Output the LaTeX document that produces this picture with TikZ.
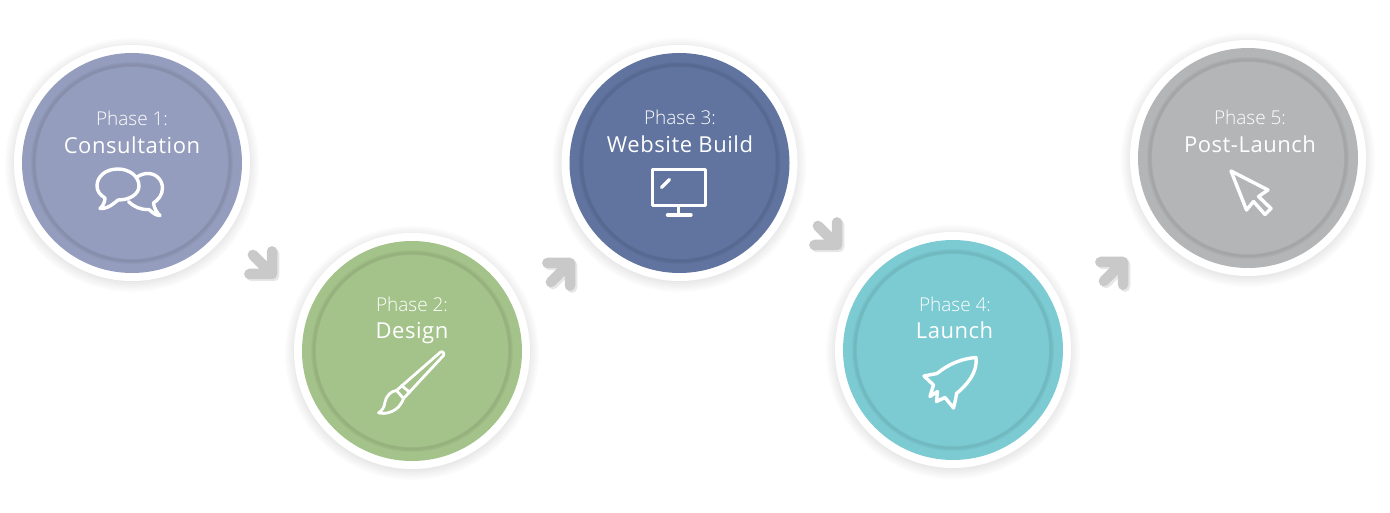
\documentclass[tikz,border=0pt]{standalone}
\usepackage{fontspec}
\setmainfont{Open Sans}
\newfontfamily\phasefont{Open Sans Light}
\newfontfamily\titlefont[LetterSpace=2.5]{Open Sans}
\definecolor{cone}{HTML}{949DBD}
\definecolor{ctwo}{HTML}{A4C38A}
\definecolor{cthree}{HTML}{60749F}
\definecolor{cfour}{HTML}{7CCBD2}
\definecolor{cfive}{HTML}{B4B5B7}
\definecolor{arrowgrey}{HTML}{C9C9C9}
\tikzset{
  x=1pt,y=-1pt,
  rim/.style={circle,fill=white,minimum size=236pt,inner sep=0pt},
  disc/.style={circle,fill=#1,minimum size=220pt,inner sep=0pt},
  phaselabel/.style={text=white,inner sep=0pt,font=\phasefont\fontsize{19}{21}\selectfont},
  titlelabel/.style={text=white,inner sep=0pt,font=\titlefont\fontsize{22}{25}\selectfont},
  iconline/.style={draw=white,line width=3.4pt,line join=round,line cap=round},
  chevronline/.style={line width=10.5pt,line join=round,line cap=round}
}
\newcommand{\phasedisc}[4]{%
  \foreach \r in {127,125,...,117}{\fill[black,opacity=.014] (#2,#3+2) circle[radius=\r];}
  \node[rim] (#1rim) at (#2,#3) {};
  \node[disc=#4] (#1) at (#2,#3) {};
  \foreach \w in {6,4,2}{\draw[#4!70!black,opacity=.10,line width=\w pt] (#2,#3) circle[radius=98];}
  \fill[#4] (#2,#3) circle[radius=96];
}
\newcommand{\chevron}[3]{%
  \begin{scope}[shift={(#1+2,#2+2)},rotate=#3]
    \draw[chevronline,draw=black!14,opacity=.65] (-16,-16) -- (0,0) -- (-16,16) (-27,0) -- (0,0);
  \end{scope}
  \begin{scope}[shift={(#1,#2)},rotate=#3]
    \draw[chevronline,draw=arrowgrey] (-16,-16) -- (0,0) -- (-16,16) (-27,0) -- (0,0);
  \end{scope}
}
\begin{document}
\begin{tikzpicture}
\useasboundingbox (0,0) rectangle (1390,513);
\fill[white] (0,0) rectangle (1390,513);

\phasedisc{one}{132}{163}{cone}
\phasedisc{two}{412}{351}{ctwo}
\phasedisc{three}{679.5}{163}{cthree}
\phasedisc{four}{953}{350}{cfour}
\phasedisc{five}{1248}{158}{cfive}

\chevron{272}{274}{-45}
\chevron{570}{263}{45}
\chevron{837}{245}{-45}
\chevron{1123}{262}{45}

\node[phaselabel] (p1) at (132,118) {Phase 1:};
\node[titlelabel] (t1) at (132,145) {Consultation};
\node[phaselabel] (p2) at (412,304.5) {Phase 2:};
\node[titlelabel] (t2) at (412,333.5) {Design};
\node[phaselabel] (p3) at (680,117.5) {Phase 3:};
\node[titlelabel] (t3) at (680,144) {Website Build};
\node[phaselabel] (p4) at (955,304.5) {Phase 4:};
\node[titlelabel] (t4) at (954.5,330.5) {Launch};
\node[phaselabel] (p5) at (1250,117.5) {Phase 5:};
\node[titlelabel] (t5) at (1250,144) {Post-Launch};

% speech bubbles
\draw[iconline] (118,200) .. controls (130,200) and (139,194) .. (139,186)
  .. controls (139,176) and (129,169) .. (118,169)
  .. controls (106,169) and (97,176) .. (97,186)
  .. controls (97,191) and (100,195) .. (105,198)
  .. controls (105,202) and (103,206) .. (100,208.5)
  .. controls (105,209) and (110,207) .. (118,200);
\draw[iconline] (137,177) .. controls (141,174.5) and (144,173.5) .. (148,173.5)
  .. controls (156,173.5) and (162.5,180) .. (162.5,188)
  .. controls (162.5,195) and (158,200) .. (153.5,203)
  .. controls (154,208) and (157,213) .. (160,215.5)
  .. controls (156,215.5) and (153,213) .. (149,209.5)
  .. controls (141,210) and (134,207) .. (128.5,201.5);

% paint brush
\draw[iconline,line width=2.8pt] (396.5,390.5) -- (440,352.5)
  .. controls (442,350.5) and (445,353) .. (443.5,355.5)
  -- (403.5,398.5) -- cycle;
\draw[iconline,line width=2.8pt] (401.5,385.5) -- (410,392.5);
\draw[iconline,line width=2.8pt] (396.5,390.5)
  .. controls (391,391) and (386,396) .. (385,402)
  .. controls (384.5,407) and (382,411) .. (378.5,412.8)
  .. controls (386,415) and (396,411) .. (400,405)
  .. controls (402,402.5) and (403,400.5) .. (403.5,398.5);

% monitor
\draw[iconline,line cap=butt] (652.5,169.5) rectangle (705.5,205.5);
\draw[iconline,line cap=butt] (678.5,205.5) -- (678.5,215);
\draw[iconline] (667.5,215) -- (691,215);
\draw[iconline] (661.5,187.5) -- (669.5,179.5);

% rocket
\draw[iconline] (976,357.5) .. controls (963,358.5) and (950,363) .. (937,373.5)
  -- (924,376) -- (933.5,385) -- (930,396.5) -- (937.5,391.5) -- (936.5,401.5)
  -- (945,397.5) -- (953.5,408)
  .. controls (955,402) and (956,398) .. (956.5,393.5)
  .. controls (967,385) and (978,372) .. (976,357.5) -- cycle;

% cursor
\draw[iconline] (1231,171) -- (1268,190) -- (1258.5,196.5) -- (1271,208.5)
  -- (1265,214.5) -- (1253.5,201.5) -- (1246.5,210) -- cycle;
\end{tikzpicture}
\end{document}
